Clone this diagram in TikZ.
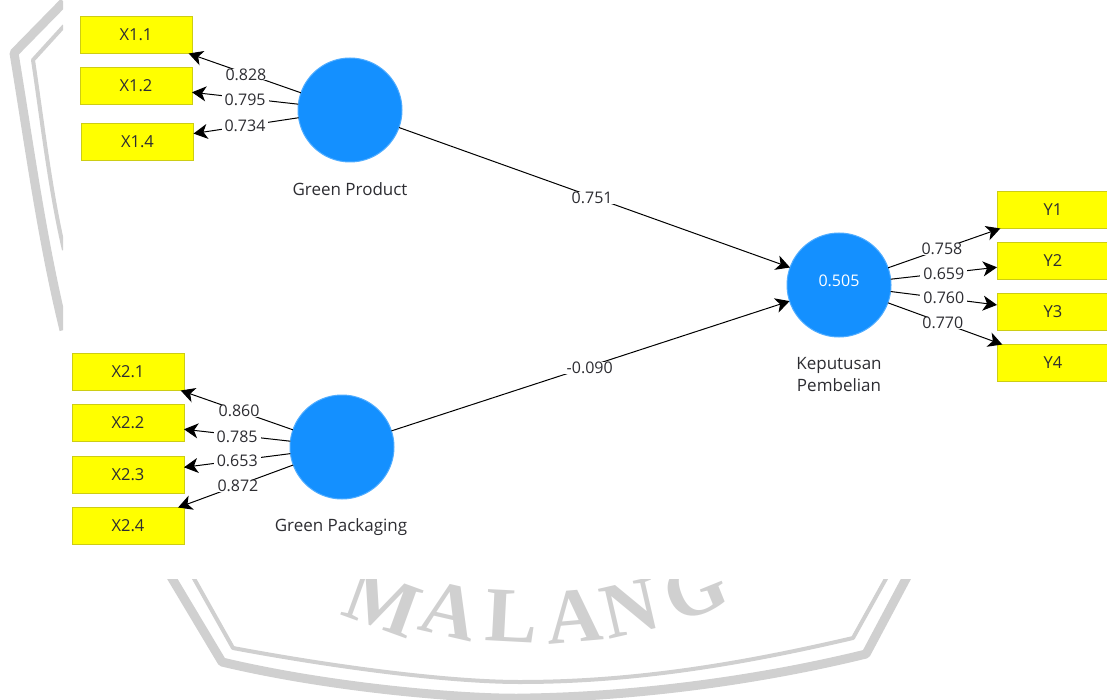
\documentclass[tikz,border=0pt]{standalone}
\usepackage{fontspec}
\setmainfont{Open Sans}
\newfontfamily\markfont{Liberation Serif}
\usetikzlibrary{arrows.meta}
\definecolor{latentblue}{RGB}{20,144,255}
\definecolor{boxfill}{RGB}{255,255,0}
\definecolor{boxedge}{RGB}{205,205,20}
\definecolor{markgray}{RGB}{208,208,208}
\definecolor{inkgray}{RGB}{45,45,50}
\tikzset{
  indicator/.style={draw=boxedge,fill=boxfill,line width=1pt,minimum width=112pt,minimum height=37pt,inner sep=0pt,outer sep=0pt,text=inkgray,font=\fontsize{16.5}{18}\selectfont},
  latent/.style={circle,draw=latentblue!75!white,fill=latentblue,line width=1pt,minimum size=104pt,inner sep=0pt,outer sep=0pt,text=white,font=\fontsize{16}{18}\selectfont},
  caption/.style={text=inkgray,align=center,font=\fontsize{17}{22}\selectfont},
  loading/.style={draw=black,line width=1pt,-{Stealth[length=14pt,width=15pt,inset=4pt]}},
  weight/.style={fill=white,text=inkgray,inner xsep=3pt,inner ysep=0pt,font=\fontsize{16}{18}\selectfont},
  markband/.style={draw=markgray,line join=round},
  markletter/.style={text=markgray,inner sep=0pt,font=\markfont\bfseries\fontsize{78}{78}\selectfont}
}
\begin{document}
\begin{tikzpicture}[x=1pt,y=-1pt]
\useasboundingbox (0,0) rectangle (1107,700);

% watermark
\begin{scope}
\clip (0,0) rectangle (63,335) (0,579) rectangle (1107,700);
\draw[markband,line width=9pt] (64,2) -- (14,53) .. controls (30,150) and (42,240) .. (64,330);
\draw[markband,line width=4pt] (64,26) -- (33,60) .. controls (42,120) and (50,190) .. (64,250);
\draw[markband,line width=9pt] (170,575) -- (222,662) .. controls (340,690) and (480,700) .. (530,698) .. controls (640,696) and (760,680) .. (866,654) -- (908,575);
\draw[markband,line width=4pt] (192,575) -- (233,648) .. controls (340,668) and (450,682) .. (520,682) .. controls (640,682) and (750,662) .. (853,638) -- (888,575);
\node[markletter,rotate=-20] (markm) at (383,603) {M};
\node[markletter,rotate=-13] (marka) at (450,611) {A};
\node[markletter,rotate=-3] (markl) at (512,616) {L};
\node[markletter,rotate=5] (markb) at (574,616) {A};
\node[markletter,rotate=13] (markn) at (630,608) {N};
\node[markletter,rotate=22] (markg) at (695,590) {G};
\end{scope}

% latent variables
\node[latent] (product) at (350,110) {};
\node[latent] (packaging) at (342,447) {};
\node[latent] (decision) at (839,285) {\raisebox{8pt}{0.505}};
\node[caption] (productname) at (350,189) {Green Product};
\node[caption] (packagingname) at (341,527) {Green Packaging};
\node[caption] (decisionname) at (839,375) {Keputusan\\Pembelian};

% indicators
\node[indicator] (x11) at (136,35) {X1.1};
\node[indicator] (x12) at (136,86) {X1.2};
\node[indicator] (x14) at (137.5,142) {X1.4};
\node[indicator] (x21) at (128,372) {X2.1};
\node[indicator] (x22) at (128,423) {X2.2};
\node[indicator] (x23) at (128,474.5) {X2.3};
\node[indicator] (x24) at (128,526) {X2.4};
\node[indicator] (y1) at (1053,210) {Y1};
\node[indicator] (y2) at (1053,261) {Y2};
\node[indicator] (y3) at (1053,312) {Y3};
\node[indicator] (y4) at (1053,363) {Y4};

\draw[loading] (product) -- (x11) node[weight,pos=.49,yshift=-1pt] (w11) {0.828}; % product - x1.1
\draw[loading] (product) -- (x12) node[weight,pos=.5,yshift=-2pt] (w12) {0.795}; % product - x1.2
\draw[loading] (product) -- (x14) node[weight,pos=.51] (w14) {0.734}; % product - x1.4
\draw[loading] (packaging) -- (x21) node[weight,pos=.48] (w21) {0.860}; % packaging - x2.1
\draw[loading] (packaging) -- (x22) node[weight,pos=.5,yshift=-2pt] (w22) {0.785}; % packaging - x2.2
\draw[loading] (packaging) -- (x23) node[weight,pos=.5] (w23) {0.653}; % packaging - x2.3
\draw[loading] (packaging) -- (x24) node[weight,pos=.48,yshift=-.5pt] (w24) {0.872}; % packaging - x2.4
\draw[loading] (decision) -- (y1) node[weight,pos=.48] (v1) {0.758}; % decision - y1
\draw[loading] (decision) -- (y2) node[weight,pos=.5,yshift=-1pt] (v2) {0.659}; % decision - y2
\draw[loading] (decision) -- (y3) node[weight,pos=.5,yshift=.5pt] (v3) {0.760}; % decision - y3
\draw[loading] (decision) -- (y4) node[weight,pos=.48] (v4) {0.770}; % decision - y4
\draw[loading] (product) -- (decision) node[weight,pos=.494,yshift=-1pt] (path1) {0.751}; % product - decision
\draw[loading] (packaging) -- (decision) node[weight,pos=.498,yshift=-2pt] (path2) {-0.090}; % packaging - decision

\end{tikzpicture}
\end{document}
